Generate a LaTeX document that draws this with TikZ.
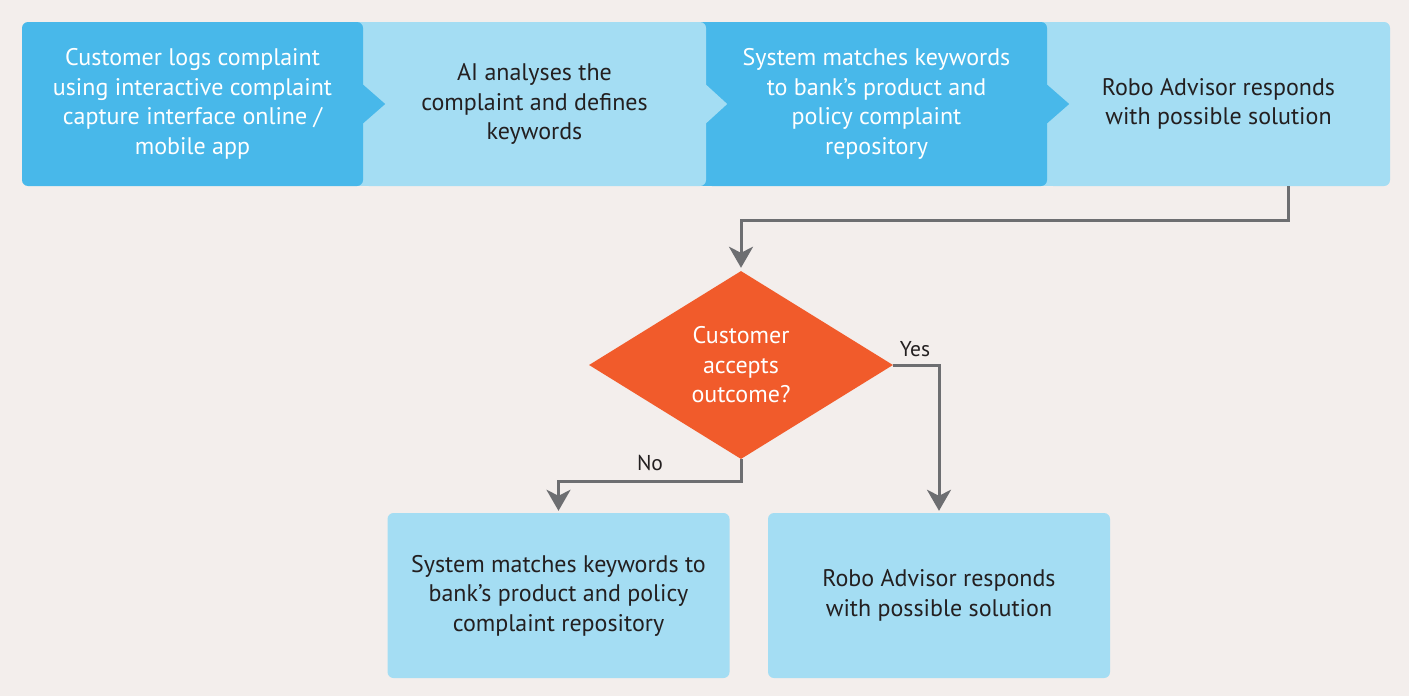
\documentclass[tikz,border=0pt]{standalone}
\usepackage{fontspec}
\setmainfont{PT Sans}
\usetikzlibrary{shapes.geometric,arrows.meta,calc}
\definecolor{bg}{RGB}{243,238,236}
\definecolor{darkblue}{RGB}{72,184,234}
\definecolor{lightblue}{RGB}{164,221,243}
\definecolor{decor}{RGB}{241,91,43}
\definecolor{linegrey}{RGB}{109,110,113}
\definecolor{ink}{RGB}{35,31,32}

\begin{document}
\begin{tikzpicture}[x=1pt,y=-1pt,
  txt/.style={font=\fontsize{24}{29.5}\selectfont, align=center},
  box/.style={txt, rounded corners=6pt, minimum height=164pt, inner sep=0pt},
  darkbox/.style={box, fill=darkblue, text=white},
  lightbox/.style={box, fill=lightblue, text=ink},
  conn/.style={draw=linegrey, line width=3pt,
    -{Stealth[length=21pt,width=24pt,inset=6pt]}},
  lbl/.style={font=\fontsize{21.5}{25}\selectfont, text=ink}
]
% canvas
\fill[bg] (0,0) rectangle (1409,696);
\useasboundingbox (0,0) rectangle (1409,696);

% top process strip, stacked right to left so each box tucks under its left neighbour
\fill[lightblue] (1030,22) rectangle (1062,186);
\node[lightbox, minimum width=343pt] (b4) at (1218.5,104)
  {Robo Advisor responds\\with possible solution};
\fill[darkblue] (690,22) rectangle (722,186);
\node[darkbox, minimum width=341pt] (b3) at (876.5,104)
  {System matches keywords\\to bank’s product and\\policy complaint\\repository};
\fill[darkblue] ($(b3.east)+(-2,-21)$) -- ($(b3.east)+(22,0)$) -- ($(b3.east)+(-2,21)$) -- cycle;
\fill[lightblue] (345,22) rectangle (377,186);
\node[lightbox, minimum width=343pt] (b2) at (534.5,104)
  {AI analyses the\\complaint and defines\\keywords};
\fill[lightblue] ($(b2.east)+(-2,-21)$) -- ($(b2.east)+(21,0)$) -- ($(b2.east)+(-2,21)$) -- cycle;
\node[darkbox, minimum width=341pt] (b1) at (192.5,104)
  {Customer logs complaint\\using interactive complaint\\capture interface online /\\mobile app};
\fill[darkblue] ($(b1.east)+(-2,-21)$) -- ($(b1.east)+(22,0)$) -- ($(b1.east)+(-2,21)$) -- cycle;

% decision
\node[diamond, aspect=1.63, minimum width=304pt, minimum height=188pt, inner sep=0pt,
  fill=decor, text=white, txt] (dec) at (741,365) {Customer\\accepts\\outcome?};

% outcome boxes
\node[lightbox, minimum width=342pt, minimum height=165pt] (rep) at (558.5,595.5)
  {System matches keywords to\\bank’s product and policy\\complaint repository};
\node[lightbox, minimum width=342pt, minimum height=165pt] (sol) at (939,595.5)
  {Robo Advisor responds\\with possible solution};

% connectors
\coordinate (out4) at ($(b4.south west)+(242,0)$);
\draw[conn, shorten >=3pt] (out4) -- ++(0,34) -| (dec.north);
\draw[conn, shorten >=2pt] (dec.east) -| (sol.north);
\draw[conn, shorten >=2pt] (dec.south) -- ++(0,22) -| (rep.north);

% branch labels
\node[lbl] (lyes) at (915,349) {Yes};
\node[lbl] (lno) at (650,463) {No};
\end{tikzpicture}
\end{document}
